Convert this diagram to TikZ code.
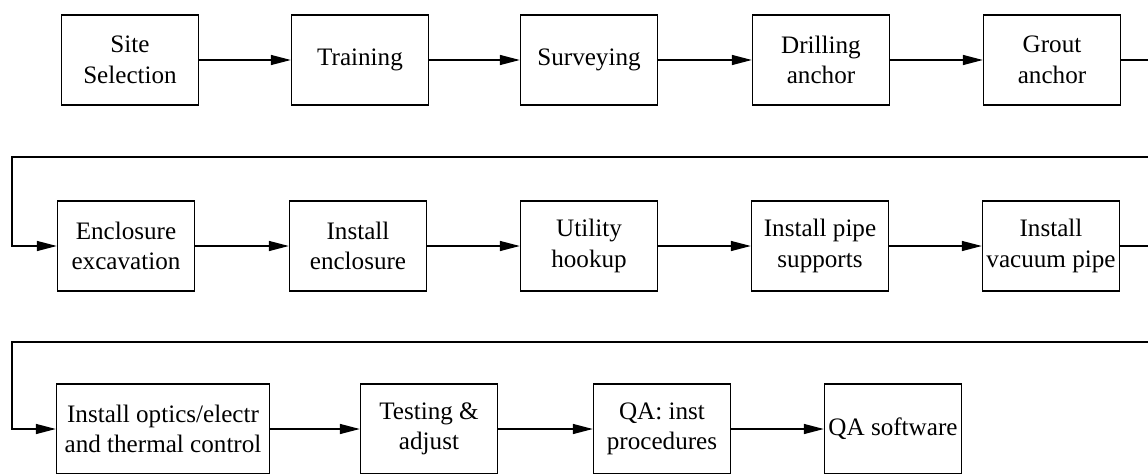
\documentclass[tikz,border=0pt]{standalone}
\usepackage{fontspec}
\setmainfont{Liberation Serif}
\usetikzlibrary{arrows.meta, positioning}

\begin{document}
\begin{tikzpicture}[x=0.02cm, y=-0.02cm,
    task/.style={draw, line width=0.8pt, minimum width=2.74cm, minimum height=1.8cm,
        align=center, inner sep=1pt, font=\fontsize{14.3}{17.4}\selectfont},
    flow/.style={-{Triangle[length=4mm,width=2mm]}, line width=0.8pt}]
    \useasboundingbox (0,0) rectangle (1148,473);
    \clip (0,0) rectangle (1148,473);

    % row 1
    \node[task] (site) at (130,60) {Site\\Selection};
    \node[task] (train) at (360,60) {Training};
    \node[task] (survey) at (589,60) {Surveying};
    \node[task] (drill) at (821,60) {Drilling\\anchor};
    \node[task] (grout) at (1052,60) {Grout\\anchor};

    % row 2
    \node[task] (excav) at (126,246) {Enclosure\\excavation};
    \node[task] (encl) at (358,246) {Install\\enclosure};
    \node[task] (util) at (589,246) {Utility\\hookup};
    \node[task] (supp) at (820,246) {Install pipe\\supports};
    \node[task] (vac) at (1051,246) {Install\\vacuum pipe};

    % row 3
    \node[task, minimum width=4.26cm] (optics) at (163,429) {Install optics/electr\\and thermal control};
    \node[task] (test) at (429,429) {Testing \&\\adjust};
    \node[task] (qainst) at (662,429) {QA: inst\\procedures};
    \node[task] (qasoft) at (893,429) {QA software};

    \coordinate (r1) at (1170,157);
    \coordinate (l1) at (12,157);
    \coordinate (r2) at (1170,342);
    \coordinate (l2) at (12,342);

    \draw[flow] (site) -- (train);
    \draw[flow] (train) -- (survey);
    \draw[flow] (survey) -- (drill);
    \draw[flow] (drill) -- (grout);
    \draw[flow] (grout) -| (r1) -- (l1) |- (excav);

    \draw[flow] (excav) -- (encl);
    \draw[flow] (encl) -- (util);
    \draw[flow] (util) -- (supp);
    \draw[flow] (supp) -- (vac);
    \draw[flow] (vac) -| (r2) -- (l2) |- (optics);

    \draw[flow] (optics) -- (test);
    \draw[flow] (test) -- (qainst);
    \draw[flow] (qainst) -- (qasoft);
\end{tikzpicture}
\end{document}
